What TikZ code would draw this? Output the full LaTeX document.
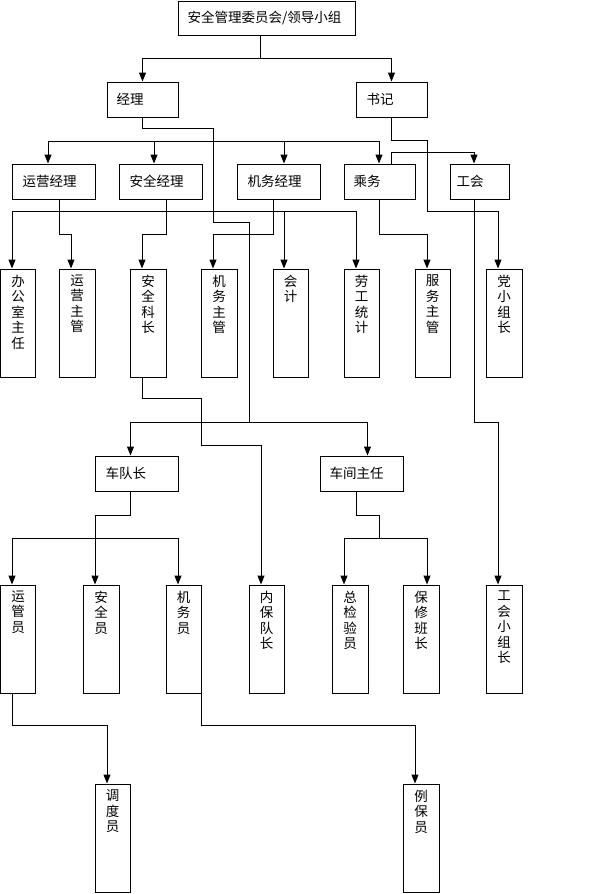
\documentclass[tikz,border=0pt]{standalone}
\usepackage{fontspec}
\newfontfamily\cjk{Noto Sans CJK SC}
\usetikzlibrary{arrows.meta}
\begin{document}
\begin{tikzpicture}[x=1pt,y=-1pt,
  box/.style={draw,line width=1pt,inner sep=0pt,minimum height=35pt},
  vbox/.style={draw,line width=1pt,inner sep=0pt,minimum height=108pt},
  htext/.style={anchor=west,inner sep=0pt,font=\cjk\fontsize{13.5}{15.5}\selectfont},
  vtext/.style={anchor=north,inner sep=0pt,align=center,font=\cjk\fontsize{13.5}{15.5}\selectfont},
  ln/.style={line width=1pt},
  arr/.style={line width=1pt,-{Triangle[length=9pt,width=7pt]}}]
\useasboundingbox (0,0) rectangle (596,894);
\fill[white] (0,0) rectangle (596,894);
% ---- horizontal boxes
\node[box,minimum width=177pt,minimum height=34pt] (top) at (266.5,18) {};
\node[htext] (ttop) at ([xshift=10pt]top.west) {安全管理委员会/领导小组};
\node[box,minimum width=71pt] (jingli) at (142.5,99.5) {};
\node[htext] (tjingli) at ([xshift=10pt]jingli.west) {经理};
\node[box,minimum width=71pt] (shuji) at (391.5,99.5) {};
\node[htext] (tshuji) at ([xshift=11pt]shuji.west) {书记};
\node[box,minimum width=83pt] (yyjl) at (53.5,181.5) {};
\node[htext] (tyyjl) at ([xshift=11pt]yyjl.west) {运营经理};
\node[box,minimum width=83pt] (aqjl) at (160.5,181.5) {};
\node[htext] (taqjl) at ([xshift=11pt]aqjl.west) {安全经理};
\node[box,minimum width=83pt] (jwjl) at (278.5,181.5) {};
\node[htext] (tjwjl) at ([xshift=11pt]jwjl.west) {机务经理};
\node[box,minimum width=71pt] (chengwu) at (379.5,181.5) {};
\node[htext] (tchengwu) at ([xshift=10pt]chengwu.west) {乘务};
\node[box,minimum width=59pt] (gonghui) at (479.5,181.5) {};
\node[htext] (tgonghui) at ([xshift=7pt]gonghui.west) {工会};
\node[box,minimum width=83pt] (cdz) at (136.5,473.5) {};
\node[htext] (tcdz) at ([xshift=11pt]cdz.west) {车队长};
\node[box,minimum width=83pt] (cjzr) at (361.5,473.5) {};
\node[htext] (tcjzr) at ([xshift=10pt]cjzr.west) {车间主任};
% ---- vertical boxes, row 3
\node[vbox,minimum width=35pt] (bgs) at (18,323) {};
\node[vtext] (tbgs) at ([yshift=-6pt]bgs.north) {办\\公\\室\\主\\任};
\node[vbox,minimum width=36pt] (yyzg) at (77,323) {};
\node[vtext] (tyyzg) at ([yshift=-6pt]yyzg.north) {运\\营\\主\\管};
\node[vbox,minimum width=36pt] (aqkz) at (148,323) {};
\node[vtext] (taqkz) at ([yshift=-6pt]aqkz.north) {安\\全\\科\\长};
\node[vbox,minimum width=36pt] (jwzg) at (219,323) {};
\node[vtext] (tjwzg) at ([yshift=-6pt]jwzg.north) {机\\务\\主\\管};
\node[vbox,minimum width=35pt] (kuaiji) at (290.5,323) {};
\node[vtext] (tkuaiji) at ([yshift=-6pt]kuaiji.north) {会\\计};
\node[vbox,minimum width=35pt] (lgtj) at (361.5,323) {};
\node[vtext] (tlgtj) at ([yshift=-6pt]lgtj.north) {劳\\工\\统\\计};
\node[vbox,minimum width=35pt] (fwzg) at (432.5,323) {};
\node[vtext] (tfwzg) at ([yshift=-6pt]fwzg.north) {服\\务\\主\\管};
\node[vbox,minimum width=36pt] (dxzz) at (504,323) {};
\node[vtext] (tdxzz) at ([yshift=-6pt]dxzz.north) {党\\小\\组\\长};
% ---- vertical boxes, row 4
\node[vbox,minimum width=35pt] (ygy) at (18,639) {};
\node[vtext] (tygy) at ([yshift=-6pt]ygy.north) {运\\管\\员};
\node[vbox,minimum width=36pt] (aqy) at (101,639) {};
\node[vtext] (taqy) at ([yshift=-6pt]aqy.north) {安\\全\\员};
\node[vbox,minimum width=35pt] (jwy) at (183.5,639) {};
\node[vtext] (tjwy) at ([yshift=-6pt]jwy.north) {机\\务\\员};
\node[vbox,minimum width=35pt] (nbdz) at (266.5,639) {};
\node[vtext] (tnbdz) at ([yshift=-6pt]nbdz.north) {内\\保\\队\\长};
\node[vbox,minimum width=36pt] (zjyy) at (350,639) {};
\node[vtext] (tzjyy) at ([yshift=-6pt]zjyy.north) {总\\检\\验\\员};
\node[vbox,minimum width=36pt] (bxbz) at (421,639) {};
\node[vtext] (tbxbz) at ([yshift=-6pt]bxbz.north) {保\\修\\班\\长};
\node[vbox,minimum width=36pt] (ghxz) at (504,639) {};
\node[vtext] (tghxz) at ([yshift=-6pt]ghxz.north) {工\\会\\小\\组\\长};
% ---- vertical boxes, row 5
\node[vbox,minimum width=35pt] (ddy) at (112.5,838) {};
\node[vtext] (tddy) at ([yshift=-6pt]ddy.north) {调\\度\\员};
\node[vbox,minimum width=36pt] (lby) at (421,838) {};
\node[vtext] (tlby) at ([yshift=-6pt]lby.north) {例\\保\\员};
% ---- connectors
\coordinate (t1) at (260,58);
\draw[ln] ([xshift=-6.5pt]top.south) -- (t1);
\draw[arr] (t1) -| (jingli.north);
\draw[arr] (t1) -| (shuji.north);
% 经理 path to bus of 车队长/车间主任
\coordinate (j1) at (249,422);
\draw[ln] (jingli.south) |- (213,128) |- (249,222) -- (j1);
\draw[arr] (j1) -| ([xshift=-6pt]cdz.north);
\draw[arr] (j1) -| ([xshift=6pt]cjzr.north);
% row 2 bus
\coordinate (b2) at (213,141);
\draw[arr] (b2) -| ([xshift=-5.5pt]yyjl.north);
\draw[arr] (b2) -| ([xshift=-6.5pt]aqjl.north);
\draw[arr] (b2) -| ([xshift=5.5pt]jwjl.north);
\draw[arr] (b2) -| ([xshift=-0.5pt]chengwu.north);
% 书记 path
\draw[arr] ([xshift=-0.5pt]shuji.south) |- (427,140) |- (498,211) -- ([xshift=-6pt]dxzz.north);
% 乘务 -> 工会
\draw[arr] ([xshift=11.5pt]chengwu.north) |- (474,152) -- ([xshift=-5.5pt]gonghui.north);
% row 3
\coordinate (b3) at (59,211);
\draw[arr] ([xshift=5.5pt]yyjl.south) |- (71,234) -- ([xshift=-6pt]yyzg.north);
\draw[arr] (b3) -| ([xshift=-6pt]bgs.north);
\draw[arr] (b3) -| ([xshift=-6.5pt]kuaiji.north);
\draw[arr] (b3) -| ([xshift=-5.5pt]lgtj.north);
\draw[arr] ([xshift=5.5pt]aqjl.south) |- (142,234) -- ([xshift=-6pt]aqkz.north);
\draw[arr] ([xshift=-5.5pt]jwjl.south) |- (213,234) -- ([xshift=-6pt]jwzg.north);
\draw[arr] ([xshift=-0.5pt]chengwu.south) |- (427,234) -- ([xshift=-5.5pt]fwzg.north);
\draw[arr] ([xshift=-5.5pt]gonghui.south) |- (498,422) -- ([xshift=-6pt]ghxz.north);
% 安全科长 -> 内保队长
\draw[arr] ([xshift=-6pt]aqkz.south) |- (201,398) |- (261,445) -- ([xshift=-5.5pt]nbdz.north);
% 车队长
\coordinate (b4) at (95,538);
\draw[arr] ([xshift=-6.5pt]cdz.south) |- (95,515) -- ([xshift=-6pt]aqy.north);
\draw[arr] (b4) -| ([xshift=-6pt]ygy.north);
\draw[arr] (b4) -| ([xshift=-5.5pt]jwy.north);
% 车间主任
\coordinate (b5) at (379,538);
\draw[ln] ([xshift=-5.5pt]cjzr.south) |- (379,515) -- (b5);
\draw[arr] (b5) -| ([xshift=-6pt]zjyy.north);
\draw[arr] (b5) -| ([xshift=6pt]bxbz.north);
% row 4 -> row 5
\draw[arr] ([xshift=-6pt]ygy.south) |- (107,725) -- ([xshift=-5.5pt]ddy.north);
\draw[arr] (jwy.south east) |- (415,725) -- ([xshift=-6pt]lby.north);
\end{tikzpicture}
\end{document}
